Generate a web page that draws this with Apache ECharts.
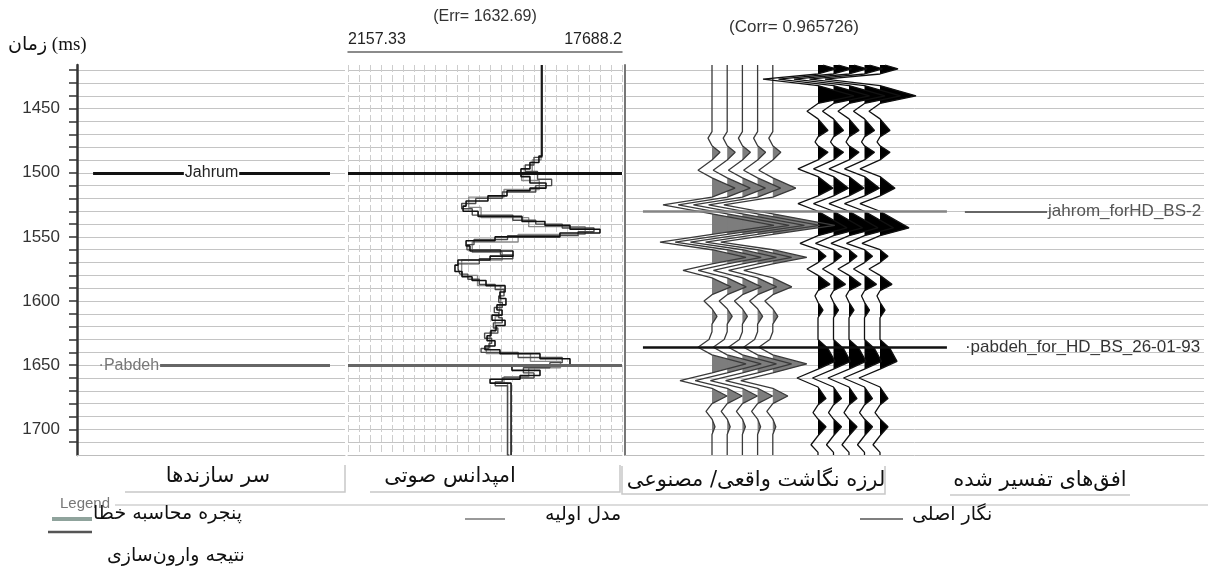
<!DOCTYPE html>
<html>
<head>
<meta charset="utf-8">
<script src="https://cdn.jsdelivr.net/npm/echarts@6/dist/echarts.min.js"></script>
<style>
  html, body { margin: 0; padding: 0; background: #fff; }
  #chart { width: 1208px; height: 574px; }
</style>
</head>
<body>
<div id="chart"></div>
<script>
// time window of the display (ms)
const tMin = 1416, tMax = 1720;
const gridTicks = [1420, 1430, 1440, 1450, 1460, 1470, 1480, 1490, 1500, 1510,
  1520, 1530, 1540, 1550, 1560, 1570, 1580, 1590, 1600, 1610,
  1620, 1630, 1640, 1650, 1660, 1670, 1680, 1690, 1700, 1710];
const labelTicks = [1450, 1500, 1550, 1600, 1650, 1700];

// formation tops (well)
const topNames = ['Jahrum', 'Pabdeh'];
const topTimes = [1500, 1650];

// interpreted seismic horizons
const horNames = ['jahrom_forHD_BS-26-01-93', 'pabdeh_for_HD_BS_26-01-93'];
const horTimes = [1530, 1636];

// acoustic impedance track
const impMin = 2157.33, impMax = 17688.2;
const errValue = 1632.69;
const corrValue = 0.965726;

// original log
const logTimes = [1416, 1487, 1492, 1497, 1503, 1508, 1512, 1514, 1518, 1522, 1526, 1530, 1534, 1538, 1541, 1544,
  1547, 1550, 1553, 1557, 1561, 1565, 1568, 1572, 1577, 1581, 1584, 1588, 1593, 1598, 1603, 1607,
  1611, 1615, 1619, 1623, 1627, 1631, 1635, 1638, 1641, 1645, 1650, 1654, 1658, 1661, 1664, 1720];
const logImp = [13150, 12980, 12470, 11960, 12470, 13380, 12470, 11170, 10090, 8850, 8680, 9530, 12020, 13320, 14740, 16440,
  14170, 10490, 8850, 9070, 11510, 10210, 8390, 8220, 8620, 9190, 9980, 11060, 10770, 11110, 10600, 10890,
  10320, 11060, 10550, 10260, 10040, 10490, 9920, 10770, 13040, 14740, 11450, 13040, 11910, 10210, 11400, 11400];

// inversion result
const invTimes = [1416, 1488, 1494, 1499, 1505, 1510, 1515, 1520, 1524, 1528, 1533, 1537, 1540, 1543, 1546, 1549,
  1552, 1556, 1560, 1564, 1567, 1571, 1575, 1579, 1583, 1587, 1591, 1596, 1601, 1605, 1609, 1613,
  1617, 1621, 1625, 1629, 1633, 1637, 1640, 1644, 1648, 1652, 1656, 1660, 1663, 1666, 1720];
const invImp = [13150, 12700, 12200, 12900, 13700, 12800, 10900, 9400, 8600, 9200, 11500, 12800, 14300, 16100, 15200, 11200,
  9300, 8900, 10800, 11500, 9600, 8400, 8500, 8950, 9600, 10500, 11000, 10700, 10900, 10450, 10700, 10900,
  10400, 10650, 9900, 10300, 10150, 9700, 11800, 14300, 13600, 12100, 12700, 10900, 10500, 11200, 11300];

// initial model
const modelTimes = [1416, 1490, 1500, 1506, 1513, 1519, 1527, 1535, 1542, 1548, 1554, 1562, 1568, 1580, 1588, 1600,
  1612, 1624, 1636, 1641, 1647, 1652, 1659, 1664, 1720];
const modelImp = [13100, 12600, 12000, 13000, 11000, 9000, 9700, 12400, 15600, 11800, 9200, 10900, 8600, 9500, 10800, 10700,
  10500, 10200, 10000, 12500, 14200, 12400, 11000, 11200, 11200];

// synthetic trace (amplitude, display units)
const synTimes = [1416, 1468, 1473, 1479, 1484, 1490, 1498, 1504, 1512, 1519, 1525, 1532, 1541, 1548, 1554, 1560,
  1566, 1571, 1576, 1582, 1589, 1595, 1600, 1606, 1612, 1618, 1624, 1630, 1636, 1642, 1649, 1656,
  1662, 1668, 1674, 1680, 1686, 1692, 1698, 1704, 1720];
const synAmp = [0, 0, -4, 0, 8, 0, -14, 0, 23, 0, -49, 0, 62, 0, -52, 0,
  34, 0, -29, 0, 19, 0, -8, 0, 5, 0, 0, -3, -14, 0, 34, 0,
  -32, 0, 15, 0, -6, 0, 3, 0, 0];

// real seismic trace
const realTimes = [1416, 1419, 1423, 1427, 1432, 1440, 1446, 1452, 1458, 1467, 1472, 1476, 1479, 1484, 1490, 1497,
  1503, 1512, 1518, 1524, 1530, 1543, 1549, 1555, 1560, 1565, 1570, 1575, 1580, 1587, 1592, 1596,
  1601, 1607, 1613, 1630, 1637, 1647, 1653, 1660, 1667, 1676, 1681, 1687, 1692, 1698, 1705, 1712, 1718, 1720];
const realAmp = [5, 18, 0, -55, 0, 36, 0, -11, 0, 10, 0, -3, 0, 10, 0, -20,
  0, 15, 0, -20, 0, 29, 0, -18, 0, 8, 0, -11, 0, 12, 0, -3,
  0, 5, 0, 0, 10, 17, 0, -21, 0, 8, 0, -5, 0, 8, 0, -7, 0, 0];

const LAT = 'Liberation Sans';
const GRID_C = '#c4c4c4';
const FA_FONT = '"DejaVu Sans"';

const chart = echarts.init(document.getElementById('chart'));

const splitH = { show: true, lineStyle: { color: GRID_C, width: 1 } };

function timeAxis(gridIndex, extra) {
  return Object.assign({
    gridIndex: gridIndex,
    type: 'value',
    inverse: true,
    min: tMin,
    max: tMax,
    axisLine: { show: false },
    axisTick: { show: false, customValues: gridTicks },
    axisLabel: { show: false },
    splitLine: splitH
  }, extra || {});
}

// trace series (variable area + wiggle)
const SYN_X0 = 87, REAL_X0 = 193, SYN_GAP = 15.2, REAL_GAP = 15.5;
const traceSeries = [];
function addTraces(times, amps, x0, gap, fillColor, lineColor) {
  for (let k = 0; k < 5; k++) {
    const off = x0 + k * gap;
    traceSeries.push({
      type: 'line', xAxisIndex: 4, yAxisIndex: 3, silent: true,
      symbol: 'none', animation: false,
      data: times.map((t, i) => [off + Math.max(amps[i], 0), t]),
      lineStyle: { width: 0 },
      areaStyle: { origin: off, color: fillColor, opacity: 1 }
    });
    traceSeries.push({
      type: 'line', xAxisIndex: 4, yAxisIndex: 3, silent: true,
      symbol: 'none', animation: false,
      data: times.map((t, i) => [off + amps[i], t]),
      lineStyle: { width: 1.3, color: lineColor }
    });
  }
}
addTraces(synTimes, synAmp, SYN_X0, SYN_GAP, '#7d7d7d', '#3a3a3a');
addTraces(realTimes, realAmp, REAL_X0, REAL_GAP, '#000', '#111');

function stepData(times, vals) {
  return times.map((t, i) => [vals[i], t]);
}

function faText(text, x, y, size, extra) {
  return { type: 'text', x: x, y: y, style: Object.assign({ text: text, font: size + 'px ' + FA_FONT, fill: '#111', verticalAlign: 'middle' }, extra || {}) };
}

const option = {
  animation: false,
  grid: [
    { left: 77, top: 65, width: 268, height: 390 },
    { left: 348, top: 65, width: 274, height: 390 },
    { left: 625, top: 65, width: 579, height: 390 },
    { left: 625, top: 65, width: 320, height: 390 }
  ],
  xAxis: [
    { gridIndex: 0, type: 'value', min: 0, max: 1, position: 'bottom',
      axisLine: { lineStyle: { color: '#bdbdbd' } }, axisTick: { show: false }, axisLabel: { show: false }, splitLine: { show: false } },
    { gridIndex: 1, type: 'value', min: 0, max: 25, interval: 1, position: 'bottom',
      axisLine: { lineStyle: { color: '#bdbdbd' } }, axisTick: { show: false }, axisLabel: { show: false },
      splitLine: { show: true, lineStyle: { color: '#cdcdcd', type: [7, 3] } } },
    { gridIndex: 1, type: 'value', min: impMin, max: impMax, position: 'top', offset: 13,
      axisLine: { show: true, lineStyle: { color: '#666', width: 1.5 } }, axisTick: { show: false },
      axisLabel: { show: true, customValues: [impMin, impMax], alignMinLabel: 'left', alignMaxLabel: 'right',
        margin: 4, color: '#222', fontSize: 16, fontFamily: LAT, formatter: v => String(v) },
      splitLine: { show: false } },
    { gridIndex: 2, type: 'value', min: 0, max: 1, position: 'bottom',
      axisLine: { lineStyle: { color: '#bdbdbd' } }, axisTick: { show: false }, axisLabel: { show: false }, splitLine: { show: false } },
    { gridIndex: 3, type: 'value', min: 0, max: 320, show: false, splitLine: { show: false } }
  ],
  yAxis: [
    timeAxis(0, {
      axisLine: { show: true, lineStyle: { color: '#333', width: 2.5 } },
      axisTick: { show: true, customValues: gridTicks, length: 8, lineStyle: { color: '#333', width: 1.5 } },
      axisLabel: { show: true, customValues: labelTicks, margin: 17, color: '#333', fontSize: 17, fontFamily: LAT,
        formatter: v => String(v) }
    }),
    timeAxis(1),
    timeAxis(2, { position: 'right', axisLine: { show: true, lineStyle: { color: '#777', width: 2 } } }),
    { gridIndex: 3, type: 'time', inverse: true, min: tMin, max: tMax, show: false, splitLine: { show: false } }
  ],
  series: [
    // formation tops track
    {
      type: 'line', xAxisIndex: 0, yAxisIndex: 0, data: [], silent: true,
      markLine: {
        symbol: 'none', silent: true, animation: false,
        data: [
          [{ coord: [0.06, topTimes[0]], lineStyle: { color: '#111', width: 3, type: 'solid' },
             label: { show: true, position: 'middle', distance: 0, verticalAlign: 'middle', formatter: topNames[0],
               color: '#222', fontSize: 16, fontFamily: LAT, backgroundColor: '#fff', padding: [1, 1] } },
           { coord: [0.944, topTimes[0]] }],
          [{ coord: [0.31, topTimes[1]], lineStyle: { color: '#666', width: 3, type: 'solid' },
             label: { show: true, position: 'start', distance: 1, formatter: '\u00b7' + topNames[1],
               color: '#777', fontSize: 16, fontFamily: LAT } },
           { coord: [0.944, topTimes[1]] }]
        ]
      }
    },
    // impedance curves
    {
      name: 'مدل اولیه', type: 'line', xAxisIndex: 2, yAxisIndex: 1, step: 'start', symbol: 'none', silent: true,
      data: stepData(modelTimes, modelImp), lineStyle: { color: '#8a8a8a', width: 1.4 },
      markLine: {
        symbol: 'none', silent: true, animation: false, label: { show: false },
        data: [
          { yAxis: topTimes[0], lineStyle: { color: '#111', width: 3, type: 'solid' } },
          { yAxis: topTimes[1], lineStyle: { color: '#666', width: 3, type: 'solid' } }
        ]
      }
    },
    {
      name: 'نتیجه وارون‌سازی', type: 'line', xAxisIndex: 2, yAxisIndex: 1, step: 'start', symbol: 'none', silent: true,
      data: stepData(invTimes, invImp), lineStyle: { color: '#4a4a4a', width: 1.4 }
    },
    {
      name: 'نگار اصلی', type: 'line', xAxisIndex: 2, yAxisIndex: 1, step: 'start', symbol: 'none', silent: true,
      data: stepData(logTimes, logImp), lineStyle: { color: '#111', width: 1.6 }
    }
  ].concat(traceSeries).concat([
    // interpreted horizons over the seismic
    {
      type: 'line', xAxisIndex: 3, yAxisIndex: 2, data: [], silent: true, z: 5,
      markLine: {
        symbol: 'none', silent: true, animation: false,
        data: [
          [{ coord: [0.031, horTimes[0]], lineStyle: { color: '#858585', width: 2.5, type: 'solid' }, label: { show: false } },
           { coord: [0.556, horTimes[0]] }],
          [{ coord: [0.587, horTimes[0]], lineStyle: { color: '#666', width: 2, type: 'solid' },
             label: { show: true, position: 'end', distance: 1, formatter: horNames[0], color: '#555', fontSize: 17,
               fontFamily: LAT, width: 157, overflow: 'truncate', ellipsis: '' } },
           { coord: [0.729, horTimes[0]] }],
          [{ coord: [0.031, horTimes[1]], lineStyle: { color: '#111', width: 2.5, type: 'solid' },
             label: { show: true, position: 'end', distance: 18, formatter: '\u00b7' + horNames[1], color: '#333', fontSize: 17,
               fontFamily: LAT, width: 240, overflow: 'truncate', ellipsis: '' } },
           { coord: [0.556, horTimes[1]] }]
        ]
      }
    }
  ]),
  graphic: [
    { type: 'text', x: 8, y: 45, style: { text: 'زمان (ms)', font: '19px "Liberation Serif", "DejaVu Sans"', fill: '#111', verticalAlign: 'middle' } },
    { type: 'text', x: 485, y: 17, style: { text: '(Err= ' + errValue + ')', font: '16px "Liberation Sans"', fill: '#333', align: 'center', verticalAlign: 'middle' } },
    { type: 'text', x: 794, y: 27, style: { text: '(Corr= ' + corrValue + ')', font: '17px "Liberation Sans"', fill: '#333', align: 'center', verticalAlign: 'middle' } },

    // track titles
    faText('سر سازندها', 218, 477, 21, { align: 'center' }),
    faText('امپدانس صوتی', 450, 477, 21, { align: 'center' }),
    faText('لرزه نگاشت واقعی/ مصنوعی', 756, 481, 21, { align: 'center' }),
    faText('افق‌های تفسیر شده', 1040, 481, 21, { align: 'center' }),
    { type: 'polyline', shape: { points: [[125, 492], [345, 492], [345, 465]] }, style: { stroke: '#c8c8c8', lineWidth: 1.5, fill: null } },
    { type: 'polyline', shape: { points: [[370, 492], [620, 492], [620, 465]] }, style: { stroke: '#c8c8c8', lineWidth: 1.5, fill: null } },
    { type: 'polyline', shape: { points: [[622, 466], [622, 494], [885, 494], [885, 466]] }, style: { stroke: '#c8c8c8', lineWidth: 1.5, fill: null } },
    { type: 'line', shape: { x1: 950, y1: 495, x2: 1130, y2: 495 }, style: { stroke: '#c8c8c8', lineWidth: 1.5 } },

    // legend box
    { type: 'text', x: 60, y: 504, style: { text: 'Legend', font: '15px "Liberation Sans"', fill: '#777', verticalAlign: 'middle' } },
    { type: 'line', shape: { x1: 115, y1: 505, x2: 1208, y2: 505 }, style: { stroke: '#d0d0d0', lineWidth: 1.5 } },
    { type: 'line', shape: { x1: 52, y1: 519, x2: 92, y2: 519 }, style: { stroke: '#8fa39c', lineWidth: 4 } },
    faText('پنجره محاسبه خطا', 93, 514, 19),
    { type: 'line', shape: { x1: 48, y1: 532, x2: 92, y2: 532 }, style: { stroke: '#555', lineWidth: 2.5 } },
    faText('نتیجه وارون‌سازی', 107, 556, 19),
    { type: 'line', shape: { x1: 465, y1: 519, x2: 505, y2: 519 }, style: { stroke: '#777', lineWidth: 1.5 } },
    faText('مدل اولیه', 545, 515, 19),
    { type: 'line', shape: { x1: 860, y1: 519, x2: 903, y2: 519 }, style: { stroke: '#555', lineWidth: 1.5 } },
    faText('نگار اصلی', 912, 515, 19)
  ]
};

chart.setOption(option);
</script>
</body>
</html>
